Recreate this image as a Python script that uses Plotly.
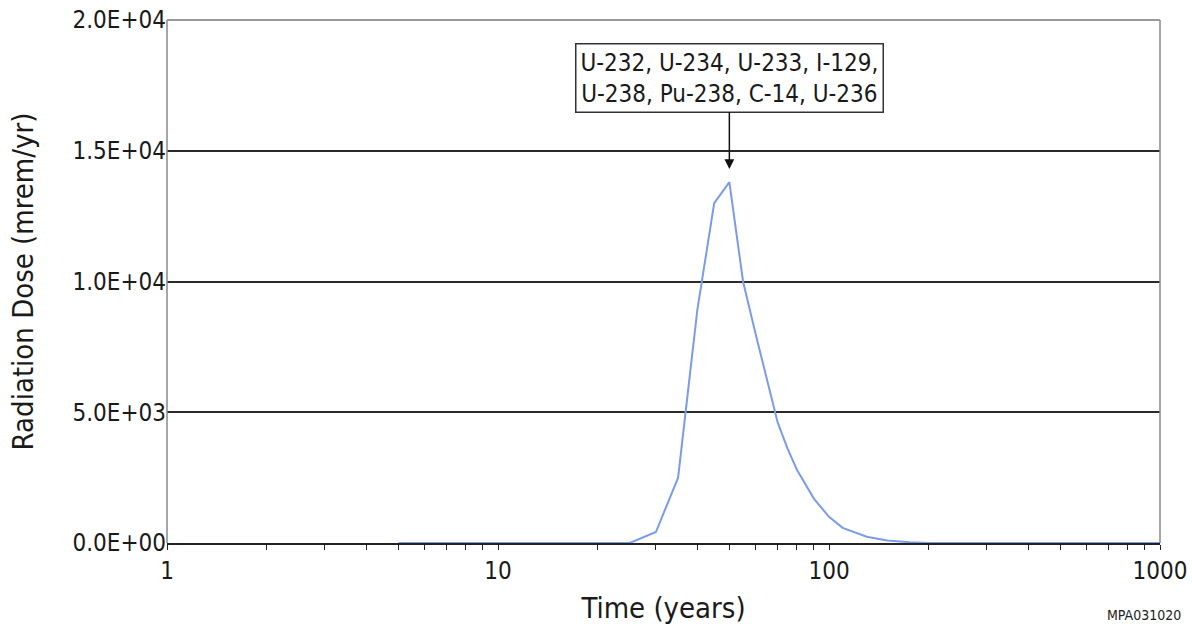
import plotly.graph_objects as go
import math

time_years = [5, 10, 15, 20, 25, 30, 35, 40, 45, 50, 55, 60, 65, 70, 75, 80, 90, 100, 110, 130, 150, 175, 200, 300, 500, 1000]
dose_mrem = [0, 0, 0, 0, 0, 420, 2500, 8900, 13000, 13800, 10000, 8000, 6200, 4600, 3600, 2800, 1700, 1000, 580, 240, 100, 30, 0, 0, 0, 0]

y_tickvals = [0, 5000, 10000, 15000, 20000]
y_ticktext = ["0.0E+00", "5.0E+03", "1.0E+04", "1.5E+04", "2.0E+04"]
x_tickvals = [1, 10, 100, 1000]
x_ticktext = ["1", "10", "100", "1000"]
x_minor_tickvals = [m * d for d in (1, 10, 100) for m in range(2, 10)]

annot_text = "U-232, U-234, U-233, I-129,<br>U-238, Pu-238, C-14, U-236"
annot_x = 50
annot_y = 14300

FONT = "DejaVu Sans Condensed, sans-serif"

fig = go.Figure()
fig.add_trace(go.Scatter(x=time_years, y=dose_mrem, mode="lines",
                         line=dict(color="#7b9cea", width=2), showlegend=False))

fig.update_layout(
    width=1193, height=632,
    margin=dict(l=167, r=33, t=20, b=89),
    paper_bgcolor="white", plot_bgcolor="white",
    font=dict(family=FONT, size=24, color="#1a1a1a"),
    xaxis=dict(type="log", range=[0, 3], tickvals=x_tickvals, ticktext=x_ticktext,
               ticks="outside", ticklen=5, tickcolor="#222", showgrid=False,
               showline=True, linecolor="#222", linewidth=1.5, automargin=False,
               minor=dict(tickvals=x_minor_tickvals, ticks="outside", ticklen=5,
                          tickcolor="#222", showgrid=False),
               title=dict(text="Time (years)", standoff=14), zeroline=False),
    yaxis=dict(range=[0, 20000], tickvals=y_tickvals, ticktext=y_ticktext,
               ticks="", showgrid=True, gridcolor="#2a2a2a", gridwidth=2,
               showline=False, zeroline=False, automargin=False,
               title=dict(text="Radiation Dose (mrem/yr)", standoff=30)),
    shapes=[
        dict(type="line", xref="paper", yref="paper", x0=0, x1=0, y0=0, y1=1,
             line=dict(color="#888", width=1.5), layer="above"),
        dict(type="line", xref="paper", yref="paper", x0=1, x1=1, y0=0, y1=1,
             line=dict(color="#888", width=1.5), layer="above"),
        dict(type="line", xref="paper", yref="paper", x0=0, x1=1, y0=1, y1=1,
             line=dict(color="#999", width=2), layer="above"),
    ],
    annotations=[
        dict(x=math.log10(annot_x), y=annot_y, xref="x", yref="y", text=annot_text,
             showarrow=True, arrowhead=2, arrowsize=1.3, arrowwidth=1.5, arrowcolor="#111",
             ax=0, ay=-91, standoff=0, bgcolor="white", bordercolor="#333", borderwidth=1.5,
             borderpad=4, font=dict(family=FONT, size=24, color="#1a1a1a"), align="center"),
        dict(x=1.023, y=-0.138, xref="paper", yref="paper", text="MPA031020",
             showarrow=False, xanchor="right", yanchor="middle",
             font=dict(family=FONT, size=14, color="#222")),
    ],
)

fig.write_html("out.html")
